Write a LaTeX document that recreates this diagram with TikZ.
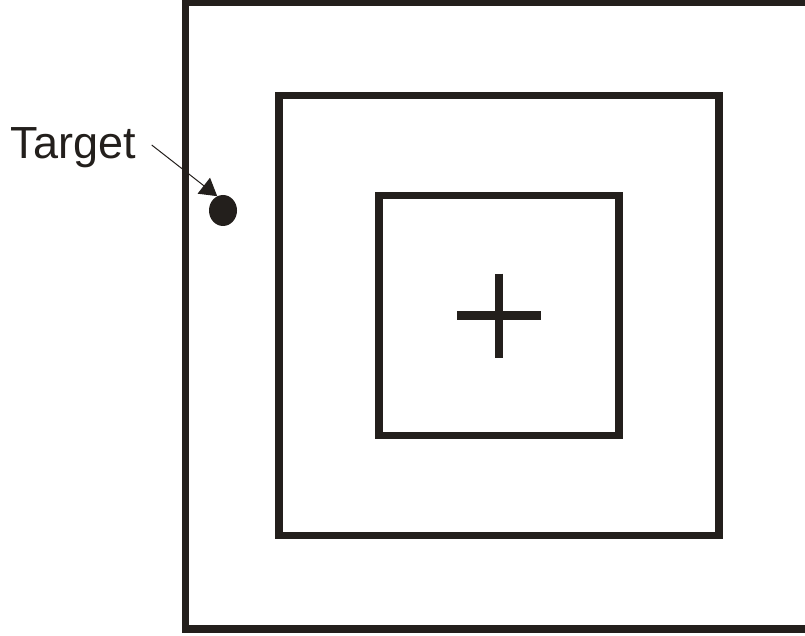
\documentclass[tikz,border=0pt]{standalone}
\usepackage{fontspec}
\setmainfont{Liberation Sans}
\usetikzlibrary{shapes.geometric, arrows.meta, positioning}
\definecolor{ink}{RGB}{35,31,28}

\begin{document}
\begin{tikzpicture}[
    x=1pt, y=-1pt,
    frame/.style={rectangle, draw=ink, line width=7.5pt, inner sep=0pt},
    dotmark/.style={ellipse, fill=ink, minimum width=28pt, minimum height=31pt, inner sep=0pt},
    label/.style={text=ink, inner sep=0pt, font=\fontsize{45}{54}\selectfont},
    crossline/.style={draw=ink, line width=8.5pt},
    arrow/.style={-{Triangle[length=17pt, width=20pt]}, draw=ink, line width=1pt}
]
\useasboundingbox (0,0) rectangle (805,636);

% Nodes
\node[frame, minimum size=627pt] (outer) at (499,315.5) {};
\node[frame, minimum size=440pt] (middle) at (499,315.5) {};
\node[frame, minimum size=240pt] (inner) at (499,315.5) {};
\node[dotmark] (dot) at (223,210.5) {};
\node[label, anchor=base west] (target) at (10.5,159) {Target};
\coordinate (tail) at (151.7,145);

% Cross
\draw[crossline] ([xshift=-42pt]inner.center) -- ([xshift=42pt]inner.center);
\draw[crossline] ([yshift=42pt]inner.center) -- ([yshift=-42pt]inner.center);

% Arrows
\draw[arrow] (tail) -- (dot.112);

\end{tikzpicture}
\end{document}
